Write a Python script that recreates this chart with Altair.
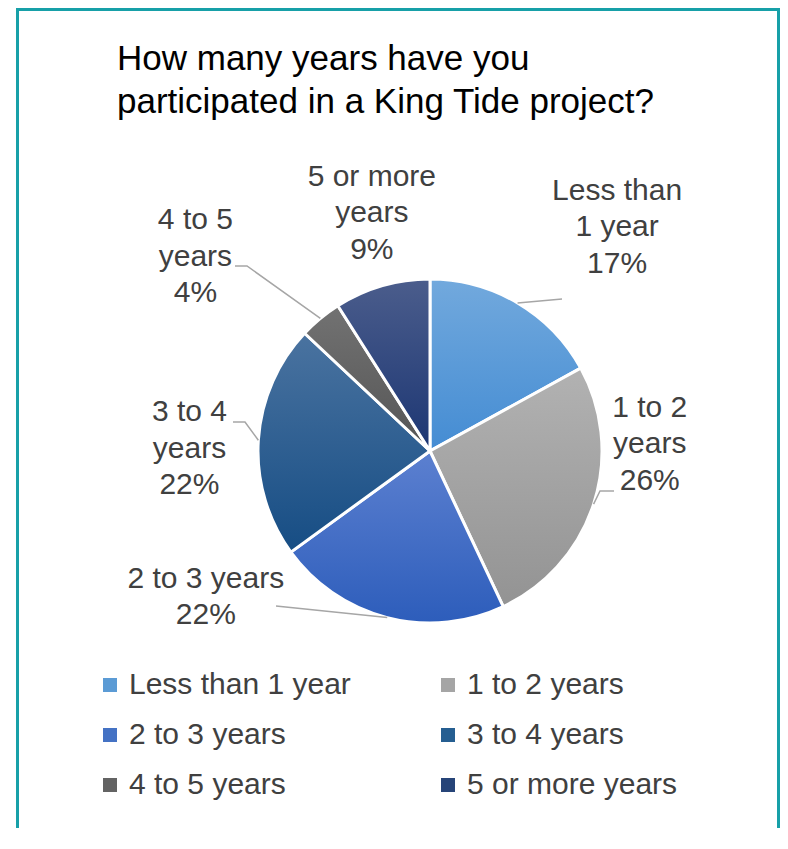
import math
import altair as alt
import pandas as pd

# ---------------- data ----------------
categories = ["Less than 1 year", "1 to 2 years", "2 to 3 years",
              "3 to 4 years", "4 to 5 years", "5 or more years"]
values = [17, 26, 22, 22, 4, 9]
label_names = ["Less than\n1 year", "1 to 2\nyears", "2 to 3 years",
               "3 to 4\nyears", "4 to 5\nyears", "5 or more\nyears"]
title_lines = ["How many years have you", "participated in a King Tide project?"]

# ---------------- styles ----------------
solid = ["#5b9bd5", "#a5a5a5", "#4472c4", "#255e91", "#636363", "#264478"]
grad_top = ["#72a9dd", "#b2b2b2", "#5c80d0", "#4a73a0", "#727272", "#4b5d8c"]
grad_bot = ["#448cd3", "#939393", "#2d5dbb", "#164d84", "#555555", "#1c3673"]
TEXT = "#404040"
FONT = "Liberation Sans"
FRAME = "#17a0a8"

# ---------------- layout (pixels, chart coords) ----------------
W, H = 772, 820
CX, CY, R = 422, 443, 172
R_LAB = 230
LH = 36.5
nudge_dx = [70, 1, -167, -11, -88, 6]
nudge_dy = [-26, -78, -77, 12, -17, -17]
# leader line bend / end points (None = no leader)
leader_pts = [
    [(554, 291)],
    [(592, 483), (606, 483)],
    [(268, 598)],
    [(237, 414), (225, 414)],
    [(239, 258), (227, 258)],
    None,
]

# ---------------- derived table ----------------
total = sum(values)
cum = 0
rows, lead_rows = [], []
for i, (c, v) in enumerate(zip(categories, values)):
    mid = (cum + v / 2) / total * 2 * math.pi
    cum += v
    pct = round(v / total * 100)
    text = f"{label_names[i]}\n{pct}%"
    nlines = text.count("\n") + 1
    lx = CX + R_LAB * math.sin(mid) + nudge_dx[i]
    ly = CY - R_LAB * math.cos(mid) + nudge_dy[i] - (nlines - 1) / 2 * LH
    rows.append({"category": c, "value": v, "idx": i,
                 "label": text, "lx": lx, "ly": ly})
    if leader_pts[i]:
        ex = CX + R * math.sin(mid)
        ey = CY - R * math.cos(mid)
        pts = [(ex, ey)] + leader_pts[i]
        for s, (px, py) in enumerate(pts):
            lead_rows.append({"category": c, "step": s, "x": px, "y": py})

df = pd.DataFrame(rows)
df_lead = pd.DataFrame(lead_rows)


def grad(top, bot):
    return {"gradient": "linear", "x1": 0, "y1": 0, "x2": 0, "y2": 1,
            "stops": [{"offset": 0, "color": top}, {"offset": 1, "color": bot}]}


fill_def = {
    "condition": [
        {"test": f"datum.category === '{c}'", "value": grad(t, b)}
        for c, t, b in zip(categories[:-1], grad_top[:-1], grad_bot[:-1])
    ],
    "value": grad(grad_top[-1], grad_bot[-1]),
}

base = alt.Chart(df).encode(
    theta=alt.Theta("value:Q", stack=True),
    order=alt.Order("idx:Q"),
)

pie_solid = base.mark_arc(outerRadius=R, stroke="white", strokeWidth=3).encode(
    x=alt.value(CX), y=alt.value(CY),
    color=alt.Color(
        "category:N",
        scale=alt.Scale(domain=categories, range=solid),
        legend=alt.Legend(
            orient="none", legendX=87, legendY=662, columns=2,
            direction="horizontal", title=None, symbolType="square",
            symbolSize=196, symbolStrokeWidth=0, labelFont=FONT,
            labelFontSize=30, labelColor=TEXT, labelOffset=4,
            columnPadding=82, rowPadding=20, labelLimit=500, padding=0,
        ),
    ),
)

pie_grad = base.mark_arc(outerRadius=R, stroke="white", strokeWidth=3).encode(
    x=alt.value(CX), y=alt.value(CY),
    detail="category:N",
    fill=fill_def,
)

leaders = alt.Chart(df_lead).mark_line(color="#a6a6a6", strokeWidth=1.5).encode(
    x=alt.X("x:Q", scale=None, axis=None),
    y=alt.Y("y:Q", scale=None, axis=None),
    detail="category:N",
    order="step:Q",
)

labels = alt.Chart(df).mark_text(
    font=FONT, fontSize=30, color=TEXT, align="center", baseline="middle",
    lineBreak="\n", lineHeight=LH,
).encode(
    x=alt.X("lx:Q", scale=None, axis=None),
    y=alt.Y("ly:Q", scale=None, axis=None),
    text="label:N",
)

title = alt.Chart(pd.DataFrame({"t": ["\n".join(title_lines)]})).mark_text(
    font=FONT, fontSize=35, color="black", align="left", baseline="alphabetic",
    lineBreak="\n", lineHeight=43,
).encode(x=alt.value(109), y=alt.value(62), text="t:N")

frame_df = pd.DataFrame({"a": [0]})
frame_left = alt.Chart(frame_df).mark_rule(color=FRAME, strokeWidth=3).encode(
    x=alt.value(9.5), y=alt.value(0), y2=alt.value(H))
frame_top = alt.Chart(frame_df).mark_rule(color=FRAME, strokeWidth=3).encode(
    y=alt.value(1.5), x=alt.value(8), x2=alt.value(W))
frame_right = alt.Chart(frame_df).mark_rule(color=FRAME, strokeWidth=3).encode(
    x=alt.value(W - 1.5), y=alt.value(0), y2=alt.value(H))

chart = alt.layer(
    pie_solid, pie_grad, leaders, labels, title,
    frame_left, frame_top, frame_right,
).properties(
    width=W, height=H, padding=0,
    autosize=alt.AutoSizeParams(type="none"),
).configure_view(stroke=None).resolve_scale(x="independent", y="independent")

chart.save("out.html", embed_options={"renderer": "svg", "actions": False})
